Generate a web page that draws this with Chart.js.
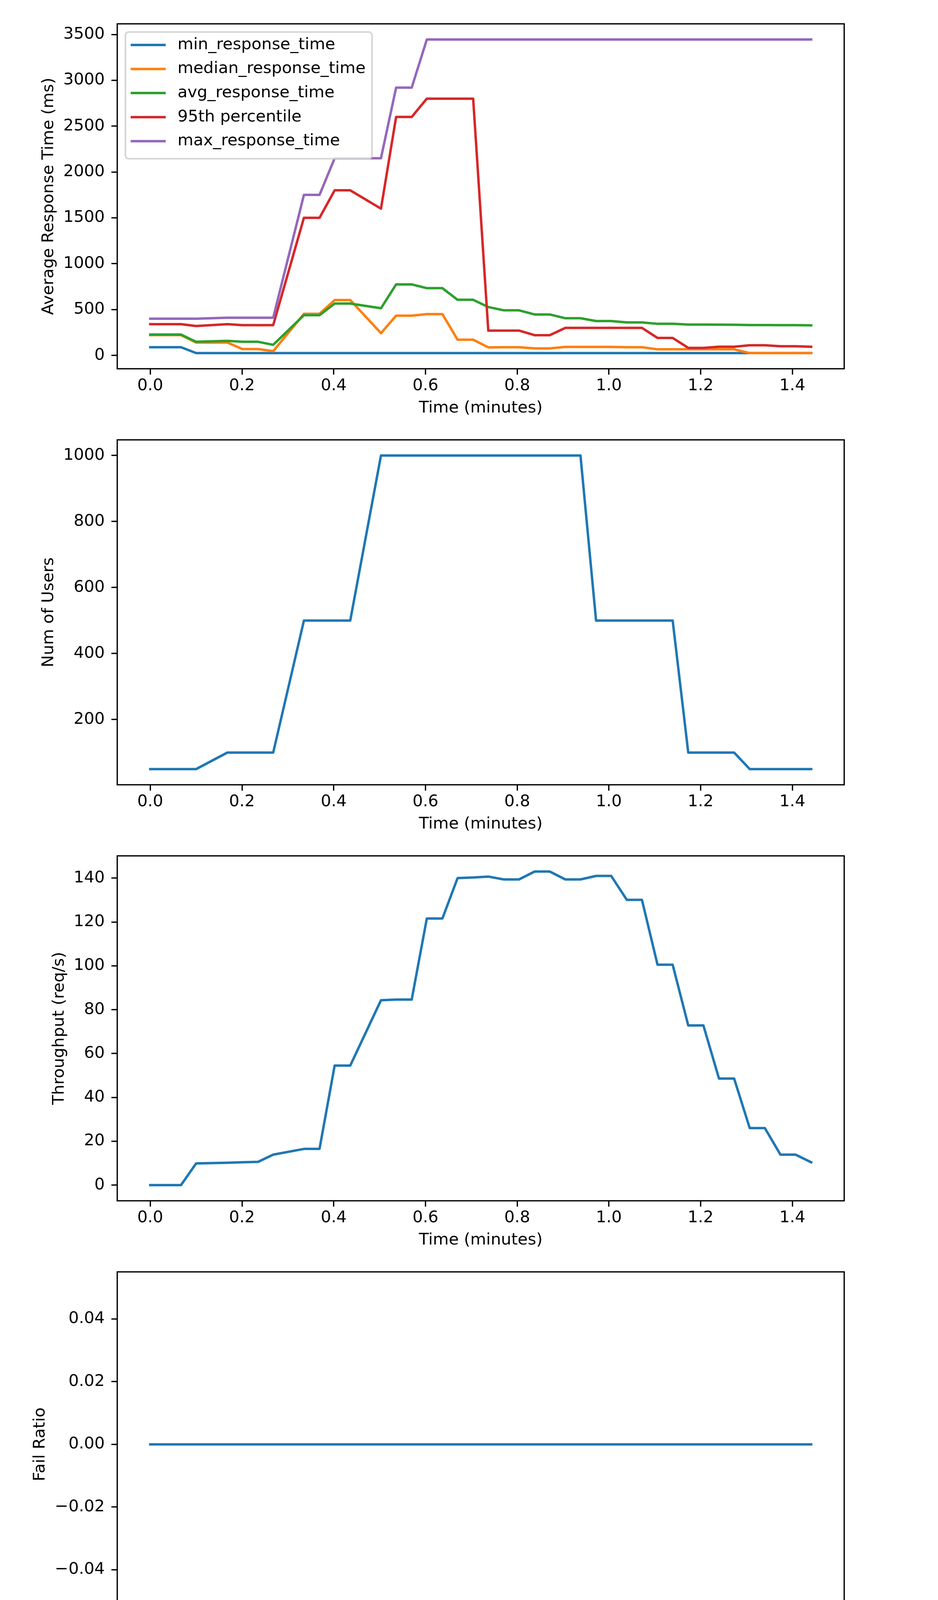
<!DOCTYPE html>
<html>
<head>
<meta charset="utf-8">
<script src="https://cdn.jsdelivr.net/npm/chart.js@4.4.0/dist/chart.umd.min.js"></script>
<style>
  body { margin: 0; background: #fff; }
  #wrap { position: relative; width: 2400px; height: 4299px; background: #fff; }
  canvas { position: absolute; left: 0; }
</style>
</head>
<body>
<div id="wrap">
  <canvas id="c0" width="2400" height="1104" style="top:0px;width:2400px;height:1104px"></canvas>
  <canvas id="c1" width="2400" height="1104" style="top:1065px;width:2400px;height:1104px"></canvas>
  <canvas id="c2" width="2400" height="1104" style="top:2130px;width:2400px;height:1104px"></canvas>
  <canvas id="c3" width="2400" height="1104" style="top:3195px;width:2400px;height:1104px"></canvas>
</div>
<script>
/* ========= DATA ========= */
const times = [0.000, 0.067, 0.100, 0.168, 0.201, 0.235, 0.268, 0.335, 0.369, 0.402,
  0.436, 0.503, 0.536, 0.570, 0.603, 0.637, 0.670, 0.704, 0.737, 0.771,
  0.804, 0.838, 0.871, 0.905, 0.938, 0.972, 1.005, 1.039, 1.072, 1.106,
  1.139, 1.173, 1.206, 1.240, 1.273, 1.307, 1.340, 1.374, 1.407, 1.441];

const minResponse = [89, 89, 25, 25, 25, 25, 25, 25, 25, 25,
  25, 25, 25, 25, 25, 25, 25, 25, 25, 25,
  25, 25, 25, 25, 25, 25, 25, 25, 25, 25,
  25, 25, 25, 25, 25, 25, 25, 25, 25, 25];
const medianResponse = [221, 221, 140, 140, 69, 69, 46, 453, 453, 603,
  603, 242, 433, 433, 450, 450, 171, 171, 87, 89,
  89, 76, 76, 92, 92, 92, 92, 89, 89, 66,
  66, 66, 66, 66, 66, 25, 25, 25, 25, 25];
const avgResponse = [227, 227, 148, 158, 148, 148, 115, 438, 438, 565,
  565, 514, 774, 774, 733, 733, 606, 606, 527, 491,
  491, 446, 446, 405, 405, 374, 374, 359, 359, 344,
  344, 336, 336, 335, 334, 331, 331, 330, 330, 328];
const p95Response = [340, 340, 320, 340, 330, 330, 330, 1500, 1500, 1800,
  1800, 1600, 2600, 2600, 2800, 2800, 2800, 2800, 270, 270,
  270, 220, 220, 300, 300, 300, 300, 300, 300, 190,
  190, 81, 81, 94, 94, 110, 110, 100, 100, 94];
const maxResponse = [400, 400, 400, 410, 410, 410, 410, 1750, 1750, 2150,
  2150, 2150, 2920, 2920, 3445, 3445, 3445, 3445, 3445, 3445,
  3445, 3445, 3445, 3445, 3445, 3445, 3445, 3445, 3445, 3445,
  3445, 3445, 3445, 3445, 3445, 3445, 3445, 3445, 3445, 3445];

const users = [50, 50, 50, 100, 100, 100, 100, 500, 500, 500,
  500, 1000, 1000, 1000, 1000, 1000, 1000, 1000, 1000, 1000,
  1000, 1000, 1000, 1000, 1000, 500, 500, 500, 500, 500,
  500, 100, 100, 100, 100, 50, 50, 50, 50, 50];

const throughput = [0, 0, 9.9, 10.2, 10.4, 10.6, 13.9, 16.5, 16.5, 54.5,
  54.5, 84.3, 84.6, 84.6, 121.6, 121.6, 140.0, 140.3, 140.7, 139.4,
  139.4, 143.0, 143.0, 139.4, 139.4, 141.0, 141.0, 130.1, 130.1, 100.5,
  100.5, 72.8, 72.8, 48.6, 48.6, 26.0, 26.0, 13.9, 13.9, 10.4];

const failRatio = [0, 0, 0, 0, 0, 0, 0, 0, 0, 0,
  0, 0, 0, 0, 0, 0, 0, 0, 0, 0,
  0, 0, 0, 0, 0, 0, 0, 0, 0, 0,
  0, 0, 0, 0, 0, 0, 0, 0, 0, 0];

const responseLabels = ["min_response_time", "median_response_time", "avg_response_time",
  "95th percentile", "max_response_time"];

const xTicks = [0, 0.2, 0.4, 0.6, 0.8, 1.0, 1.2, 1.4];
const responseTicks = [0, 500, 1000, 1500, 2000, 2500, 3000, 3500];
const userTicks = [200, 400, 600, 800, 1000];
const throughputTicks = [0, 20, 40, 60, 80, 100, 120, 140];
const failTicks = [-0.04, -0.02, 0, 0.02, 0.04];

/* ========= STYLE ========= */
const PT = 300 / 72;
const FONT = 10 * PT;
const SPINE = 0.8 * PT;
const LINE = 1.5 * PT;
const COLORS = ["#1f77b4", "#ff7f0e", "#2ca02c", "#d62728", "#9467bd"];

Chart.defaults.font.family = "'DejaVu Sans', sans-serif";
Chart.defaults.font.size = FONT;
Chart.defaults.color = "#000";

const pts = ys => times.map((t, i) => ({ x: t, y: ys[i] }));

function line(label, ys, color, order) {
  return {
    label, data: pts(ys), borderColor: color, borderWidth: LINE,
    borderJoinStyle: "round", borderCapStyle: "square",
    pointRadius: 0, tension: 0, fill: false, order
  };
}

const tickGrid = {
  drawOnChartArea: false, drawTicks: true, tickLength: 15,
  lineWidth: SPINE, tickWidth: SPINE, color: "#000", tickColor: "#000"
};

function scales(yMin, yMax, yTicks, yFmt, yTitle, titlePad) {
  return {
    x: {
      type: "linear", min: -0.072, max: 1.513,
      afterBuildTicks: s => { s.ticks = xTicks.map(v => ({ value: v })); },
      afterFit: s => { s.height = 140; },
      ticks: { padding: 4, autoSkip: false, maxRotation: 0, callback: v => v.toFixed(1) },
      grid: tickGrid,
      border: { display: false },
      title: { display: true, text: "Time (minutes)", font: { size: FONT, lineHeight: 1 },
        padding: { top: 0, bottom: 18 } }
    },
    y: {
      type: "linear", min: yMin, max: yMax,
      afterBuildTicks: s => { s.ticks = yTicks.map(v => ({ value: v })); },
      afterFit: s => { s.width = 300; },
      ticks: { padding: 17, autoSkip: false, callback: yFmt },
      grid: tickGrid,
      border: { display: false },
      title: { display: true, text: yTitle, font: { size: FONT, lineHeight: 1 },
        padding: { top: titlePad, bottom: 0 } }
    }
  };
}

/* ========= PLUGINS ========= */
const framePlugin = {
  id: "frame",
  afterDraw(chart) {
    const { ctx, chartArea: a } = chart;
    ctx.save();
    ctx.strokeStyle = "#000";
    ctx.lineWidth = SPINE;
    ctx.strokeRect(a.left, a.top, a.right - a.left, a.bottom - a.top);
    ctx.restore();
  }
};

const boxLegend = {
  id: "boxLegend",
  afterDatasetsDraw(chart) {
    const { ctx, chartArea: a } = chart;
    const sets = chart.data.datasets;
    ctx.save();
    ctx.font = FONT + "px 'DejaVu Sans'";
    const textW = Math.max(...sets.map(d => ctx.measureText(d.label).width));
    const x0 = a.left + 0.5 * FONT, y0 = a.top + 0.5 * FONT;
    const pad = 0.4 * FONT, handle = 2 * FONT, gap = 0.8 * FONT;
    const first = 33.2, step = 61.6;
    const w = pad + handle + gap + textW + pad;
    const h = first + step * (sets.length - 1) + 45;
    const r = 0.2 * FONT;

    ctx.beginPath();
    ctx.moveTo(x0 + r, y0);
    ctx.arcTo(x0 + w, y0, x0 + w, y0 + h, r);
    ctx.arcTo(x0 + w, y0 + h, x0, y0 + h, r);
    ctx.arcTo(x0, y0 + h, x0, y0, r);
    ctx.arcTo(x0, y0, x0 + w, y0, r);
    ctx.closePath();
    ctx.fillStyle = "rgba(255,255,255,0.8)";
    ctx.fill();
    ctx.strokeStyle = "rgba(204,204,204,0.8)";
    ctx.lineWidth = PT;
    ctx.stroke();

    sets.forEach((d, i) => {
      const y = y0 + first + step * i;
      ctx.beginPath();
      ctx.moveTo(x0 + pad, y);
      ctx.lineTo(x0 + pad + handle, y);
      ctx.strokeStyle = d.borderColor;
      ctx.lineWidth = LINE;
      ctx.lineCap = "square";
      ctx.stroke();
      ctx.fillStyle = "#000";
      ctx.textAlign = "left";
      ctx.textBaseline = "middle";
      ctx.fillText(d.label, x0 + pad + handle + gap, y);
    });
    ctx.restore();
  }
};

function makeChart(id, datasets, sc, extra) {
  return new Chart(document.getElementById(id), {
    type: "line",
    data: { datasets },
    options: {
      responsive: false, animation: false, devicePixelRatio: 1, events: [],
      layout: { padding: { left: 0, right: 240, top: 61, bottom: 20 } },
      plugins: { legend: { display: false }, tooltip: { enabled: false } },
      scales: sc
    },
    plugins: [framePlugin].concat(extra || [])
  });
}

/* ========= CHARTS ========= */
const responseSeries = [minResponse, medianResponse, avgResponse, p95Response, maxResponse];
makeChart("c0",
  responseSeries.map((s, i) => line(responseLabels[i], s, COLORS[i], 4 - i)),
  scales(-146, 3616, responseTicks, v => String(v), "Average Response Time (ms)", 104),
  [boxLegend]);

makeChart("c1", [line("users", users, COLORS[0], 0)],
  scales(2.5, 1047.5, userTicks, v => String(v), "Num of Users", 104));

makeChart("c2", [line("throughput", throughput, COLORS[0], 0)],
  scales(-7.15, 150.15, throughputTicks, v => String(v), "Throughput (req/s)", 131));

makeChart("c3", [line("fail_ratio", failRatio, COLORS[0], 0)],
  scales(-0.055, 0.055, failTicks, v => v.toFixed(2).replace("-", "\u2212"), "Fail Ratio", 82));
</script>
</body>
</html>
